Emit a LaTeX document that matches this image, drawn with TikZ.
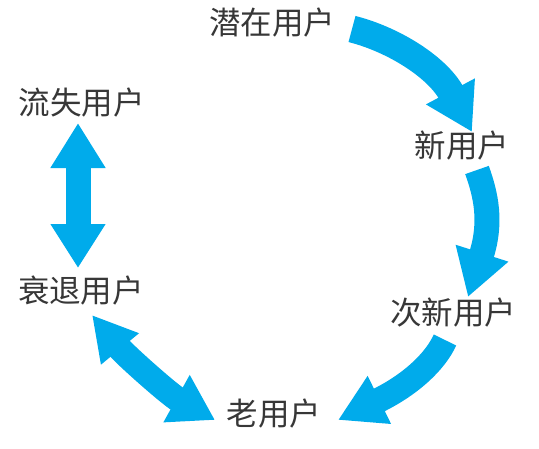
\documentclass[tikz,border=0pt]{standalone}
\usepackage{fontspec}
\newfontfamily\cjk{Noto Sans CJK SC}
\usetikzlibrary{arrows.meta}
\definecolor{arrowblue}{RGB}{0,171,235}
\definecolor{txt}{RGB}{55,55,55}
\tikzset{
  lbl/.style={font=\cjk\fontsize{31.5}{31.5}\selectfont, text=txt, inner sep=0pt},
  flow/.style={draw=arrowblue, line width=#1},
  flow/.default=25pt
}
\begin{document}
\begin{tikzpicture}[x=1pt,y=-1pt]
\useasboundingbox (0,0) rectangle (539,448);
\fill[white] (0,0) rectangle (539,448);
% labels
\node[lbl] (qz) at (272,23) {潜在用户};
\node[lbl] (xy) at (462,146) {新用户};
\node[lbl] (cx) at (453,313) {次新用户};
\node[lbl] (lao) at (274,414) {老用户};
\node[lbl] (st) at (81,291) {衰退用户};
\node[lbl] (ls) at (82,103) {流失用户};
% anchor coordinates for arrows
\coordinate (a1s) at (352,29);
\coordinate (a1e) at (472,132);
\coordinate (a2s) at (477,170);
\coordinate (a2e) at (468,297);
\coordinate (a3s) at (445,340);
\coordinate (a3e) at (338,420);
\coordinate (a4s) at (92,315);
\coordinate (a4e) at (215,420);
\coordinate (a5s) at (78,123);
\coordinate (a5e) at (78,268);
% arrows
\draw[flow=27pt, -{Triangle[width=52pt,length=46pt]}]
  (a1s) .. controls (395,40) and (438,68) .. (a1e);
\draw[flow, -{Triangle[width=52pt,length=46pt]}]
  (a2s) .. controls (486,195) and (492,222) .. (a2e);
\draw[flow, -{Triangle[width=50pt,length=46pt]}]
  (a3s) .. controls (435,362) and (410,385) .. (a3e);
\draw[flow, {Triangle[width=46pt,length=44pt]}-{Triangle[width=51pt,length=44pt]}]
  (a4s) .. controls (125,355) and (170,395) .. (a4e);
\draw[flow, {Triangle[width=52pt,length=45pt]}-{Triangle[width=52pt,length=44pt]}]
  (a5s) -- (a5e);
\end{tikzpicture}
\end{document}
